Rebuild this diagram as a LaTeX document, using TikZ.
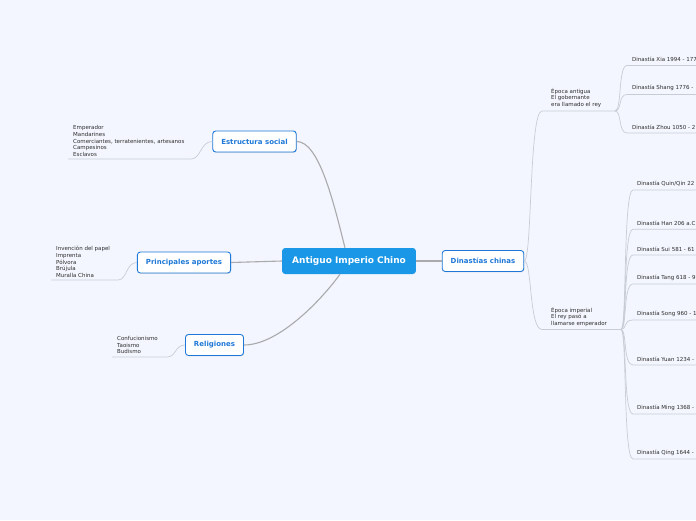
\documentclass[tikz,border=0pt]{standalone}
\usepackage{fontspec}
\setmainfont{DejaVu Sans}
\usetikzlibrary{shadows}
\definecolor{bgblue}{RGB}{243,246,254}
\definecolor{mainblue}{RGB}{26,151,230}
\definecolor{subblue}{RGB}{30,120,215}
\definecolor{trunkgray}{RGB}{170,170,172}
\definecolor{twiggray}{RGB}{200,204,212}
\definecolor{textgray}{RGB}{45,45,45}
\tikzset{
	mainbox/.style={fill=mainblue, text=white, rounded corners=3pt,
		font=\bfseries\fontsize{9}{10}\selectfont, minimum height=26pt, inner xsep=10pt},
	subbox/.style={draw=subblue, line width=0.9pt, fill=white, text=subblue, rounded corners=3pt,
		font=\bfseries\fontsize{7}{8}\selectfont, minimum height=21pt, inner xsep=8.5pt,
		drop shadow={shadow xshift=0.6pt, shadow yshift=-0.8pt, opacity=0.2}},
	leaf/.style={text=textgray, font=\fontsize{5.5}{6.6}\selectfont, align=left,
		inner xsep=5pt, inner ysep=0pt, anchor=west},
	dyn/.style={text=textgray, font=\fontsize{5.5}{6.6}\selectfont, inner sep=0pt, anchor=west},
	trunk/.style={draw=trunkgray, line width=1.1pt},
	twig/.style={draw=twiggray, line width=0.7pt},
}
\begin{document}
\begin{tikzpicture}[x=1pt, y=-1pt]
	% Background
	\fill[bgblue] (0,0) rectangle (696,520);
	\useasboundingbox (0,0) rectangle (696,520);
	\clip (0,0) rectangle (696,520);
	\coordinate (edge) at (696,0);
	
	% Central topic and main branches
	\node[mainbox] (chino) at (349,261) {Antiguo Imperio Chino};
	\node[subbox] (estructura) at (254.5,141.5) {Estructura social};
	\node[subbox] (aportes) at (184,262.5) {Principales aportes};
	\node[subbox] (religiones) at (214.5,345) {Religiones};
	\node[subbox] (dinastias) at (483,261) {Dinastías chinas};
	
	\draw[trunk] (estructura.east) .. controls +(22,0) and +(-12,-48) .. ([xshift=-4pt]chino.north);
	\draw[trunk] (religiones.east) .. controls +(35,0) and +(-18,25) .. ([xshift=-9pt]chino.south);
	\draw[trunk] (chino.west) -- (aportes.east);
	\draw[trunk] (chino.east) -- (dinastias.west);
	
	% Left side lists
	\node[leaf] (sociales) at (68,141) {Emperador\\Mandarines\\Comerciantes, terratenientes, artesanos\\Campesinos\\Esclavos};
	\node[leaf] (inventos) at (51,262) {Invención del papel\\Imprenta\\Pólvora\\Brújula\\Muralla China};
	\node[leaf] (creencias) at (112,345) {Confucionismo\\Taoismo\\Budismo};
	\coordinate (sociales-ul) at (191,159);
	\coordinate (inventos-ul) at (118,280);
	\coordinate (creencias-ul) at (167,357);
	\draw[twig] (estructura.west) .. controls +(-12,0) and +(10,0) .. (sociales-ul) -- (sociales-ul -| sociales.west);
	\draw[twig] (aportes.west) .. controls +(-11,0) and +(9,0) .. (inventos-ul) -- (inventos-ul -| inventos.west);
	\draw[twig] (religiones.west) .. controls +(-10,0) and +(9,0) .. (creencias-ul) -- (creencias-ul -| creencias.west);
	
	% Eras
	\node[leaf, inner xsep=0pt] (antigua) at (551,98) {Época antigua\\El gobernante\\era llamado el rey};
	\node[leaf, inner xsep=0pt] (imperial) at (551,316.7) {Época imperial\\El rey pasó a\\llamarse emperador};
	\coordinate (antigua-a) at (542,111);
	\coordinate (antigua-b) at (615,111);
	\coordinate (imperial-a) at (542,329.5);
	\coordinate (imperial-b) at (621,329.5);
	\draw[twig] (dinastias.east) .. controls +(8,0) and +(-13,0) .. (antigua-a) -- (antigua-b);
	\draw[twig] (dinastias.east) .. controls +(8,0) and +(-13,0) .. (imperial-a) -- (imperial-b);
	
	% Dynasties
	\foreach \n/\t/\u/\lbl in {xia/59/65.5/{Dinastía Xia 1994 - 177},
			shang/88/94.5/{Dinastía Shang 1776 -},
			zhou/127/133/{Dinastía Zhou 1050 - 2}}{
		\node[dyn] (\n) at (632,\t) {\lbl};
		\coordinate (\n-ul) at (627,\u);
		\draw[twig] (antigua-b) .. controls +(7,0) and +(-9,0) .. (\n-ul) -- (\n-ul -| edge);
	}
	\foreach \n/\t/\u/\lbl in {qin/184/190/{Dinastía Quin/Qin 22},
			han/223/229.3/{Dinastía Han 206 a.C},
			sui/249/255/{Dinastía Sui 581 - 61},
			tang/278/284/{Dinastía Tang 618 - 9},
			song/314/320/{Dinastía Song 960 - 1},
			yuan/359/365/{Dinastía Yuan 1234 -},
			ming/408/414/{Dinastía Ming 1368 -},
			qing/453/459/{Dinastía Qing 1644 -}}{
		\node[dyn] (\n) at (637,\t) {\lbl};
		\coordinate (\n-ul) at (633,\u);
		\draw[twig] (imperial-b) .. controls +(6,0) and +(-10,0) .. (\n-ul) -- (\n-ul -| edge);
	}
\end{tikzpicture}
\end{document}
